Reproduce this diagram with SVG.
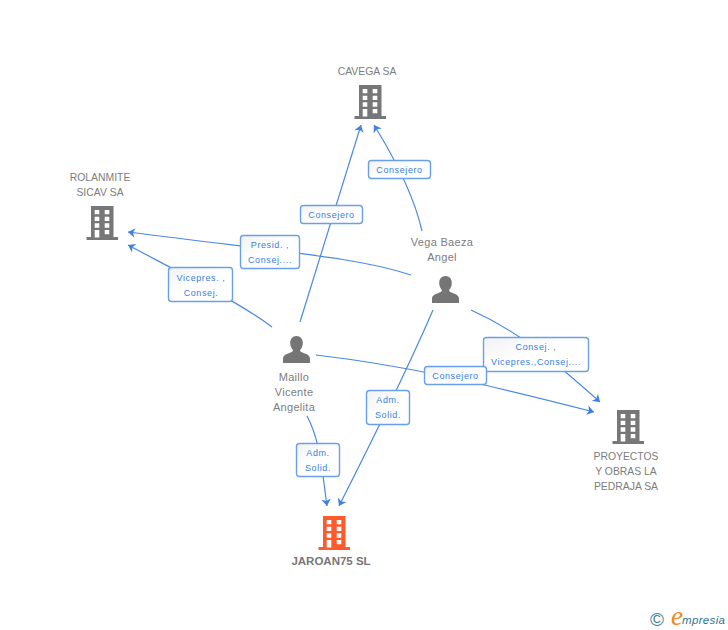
<svg xmlns="http://www.w3.org/2000/svg" width="728" height="630" viewBox="0 0 728 630">
<style>
.n{font:10.4px "Liberation Sans",Arial,sans-serif;fill:#7d7d7d;text-anchor:middle}
.p{font-size:11px;letter-spacing:.3px}
.m{font-weight:bold;font-size:11.5px;fill:#777}
.b{fill:url(#bg);stroke:#6a9fea;stroke-width:1.4}
.t{font:9px "Liberation Sans",Arial,sans-serif;fill:#3a7de0;text-anchor:middle;letter-spacing:.6px}
.c{fill:none;stroke:#4a88e4;stroke-width:1.2;marker-end:url(#a)}
</style>
<defs>
<linearGradient id="bg" x1="0" y1="0" x2="1" y2="1"><stop offset="0" stop-color="#f1f1f1"/><stop offset=".45" stop-color="#fff"/></linearGradient>
<marker id="a" markerUnits="userSpaceOnUse" markerWidth="12" markerHeight="12" refX="8" refY="6" orient="auto" viewBox="0 0 12 12"><path d="M1 1.2L8 6L1 10.800L3 6Z" fill="#3f80e2"/></marker>
<g id="bld"><path d="M0 0H22.5V31H27V34H-4.5V31H0Z"/><path fill="#fff" d="M3.7 4H8.3V8.3H3.7ZM13.7 4H18.3V8.3H13.7ZM3.7 10.7H8.3V15H3.7ZM13.7 10.7H18.3V15H13.7ZM3.7 17.3H8.3V21.7H3.7ZM13.7 17.3H18.3V21.7H13.7ZM3.7 24H8.3V31.5H3.7ZM13.7 24H18.3V28.3H13.7Z"/></g>
<path id="per" fill="#757575" d="M0 0C4 0 6.3 3 6.3 7C6.3 10 5 12.5 3.6 14C3.6 15.5 4.500 16 7 17C11 18.3 13.5 19.5 13.5 23V27H-13.5V23C-13.5 19.5 -11 18.3 -7 17C-4.5 16 -3.6 15.5 -3.6 14C-5 12.5 -6.3 10 -6.3 7C-6.3 3 -4 0 0 0Z"/>
</defs>
<g id="connectors">
<path class="c" d="M300 322L361 125"/>
<path class="c" d="M422 231C415 200 400 167 374 125"/>
<path class="c" d="M411 275C360 258 300 254 128 232"/>
<path class="c" d="M272 327C240 303 190 278 128 245"/>
<path class="c" d="M471 310C520 332 555 362 600 402"/>
<path class="c" d="M316 355C400 365 470 380 594 412"/>
<path class="c" d="M433 310C405 375 375 435 339 506"/>
<path class="c" d="M307 416C320 440 322 470 327 506"/>
</g>
<g id="cavega"><use href="#bld" x="359" y="85" fill="#777"/><text class="n" x="367" y="75">CAVEGA SA</text></g>
<g id="rolanmite"><use href="#bld" x="91" y="206" fill="#777"/><text class="n" x="100" y="181">ROLANMITE</text><text class="n" x="100" y="196">SICAV SA</text></g>
<g id="proyectos"><use href="#bld" x="617" y="410" fill="#777"/><text class="n" x="626" y="460">PROYECTOS</text><text class="n" x="626" y="475">Y OBRAS LA</text><text class="n" x="626" y="490">PEDRAJA SA</text></g>
<g id="jaroan"><use href="#bld" x="323" y="516" fill="#ff5a2c"/><text class="n m" x="331" y="565">JAROAN75 SL</text></g>
<g id="vega"><use href="#per" x="445.500" y="276"/><text class="n p" x="442" y="246">Vega Baeza</text><text class="n p" x="442" y="261">Angel</text></g>
<g id="maillo"><use href="#per" x="296.500" y="336"/><text class="n p" x="294" y="381">Maillo</text><text class="n p" x="294" y="396">Vicente</text><text class="n p" x="294" y="411">Angelita</text></g>
<g id="l1"><rect class="b" x="300.500" y="205.500" width="62" height="18" rx="3"/><text class="t" x="331.500" y="218">Consejero</text></g>
<g id="l2"><rect class="b" x="368.500" y="160.500" width="62" height="18" rx="3"/><text class="t" x="399.500" y="173">Consejero</text></g>
<g id="l3"><rect class="b" x="240.500" y="235.500" width="59" height="33" rx="3"/><text class="t" x="270" y="248">Presid. ,</text><text class="t" x="270" y="263">Consej....</text></g>
<g id="l4"><rect class="b" x="168.500" y="267.500" width="64" height="34" rx="3"/><text class="t" x="201" y="281">Vicepres. ,</text><text class="t" x="201" y="296">Consej.</text></g>
<g id="l5"><rect class="b" x="483.500" y="337.500" width="105" height="34" rx="3"/><text class="t" x="536" y="350">Consej. ,</text><text class="t" x="536" y="365">Vicepres.,Consej....</text></g>
<g id="l6"><rect class="b" x="424.500" y="366.500" width="62" height="18" rx="3"/><text class="t" x="455.500" y="379">Consejero</text></g>
<g id="l7"><rect class="b" x="366.500" y="390.500" width="43" height="34" rx="3"/><text class="t" x="388" y="403">Adm.</text><text class="t" x="388" y="418">Solid.</text></g>
<g id="l8"><rect class="b" x="296.500" y="443.500" width="43" height="33" rx="3"/><text class="t" x="318" y="456">Adm.</text><text class="t" x="318" y="471">Solid.</text></g>
<g id="logo"><text x="650" y="626" font-family="'Liberation Sans',sans-serif" font-size="19" fill="#3f7f95">©</text><text x="671" y="625" font-family="'Liberation Serif',serif" font-style="italic" font-size="27" fill="#f08a1d">e</text><text x="682" y="624" font-family="'Liberation Sans',sans-serif" font-style="italic" font-size="11.500" fill="#2f7490" letter-spacing=".35">mpresia</text></g>
</svg>
